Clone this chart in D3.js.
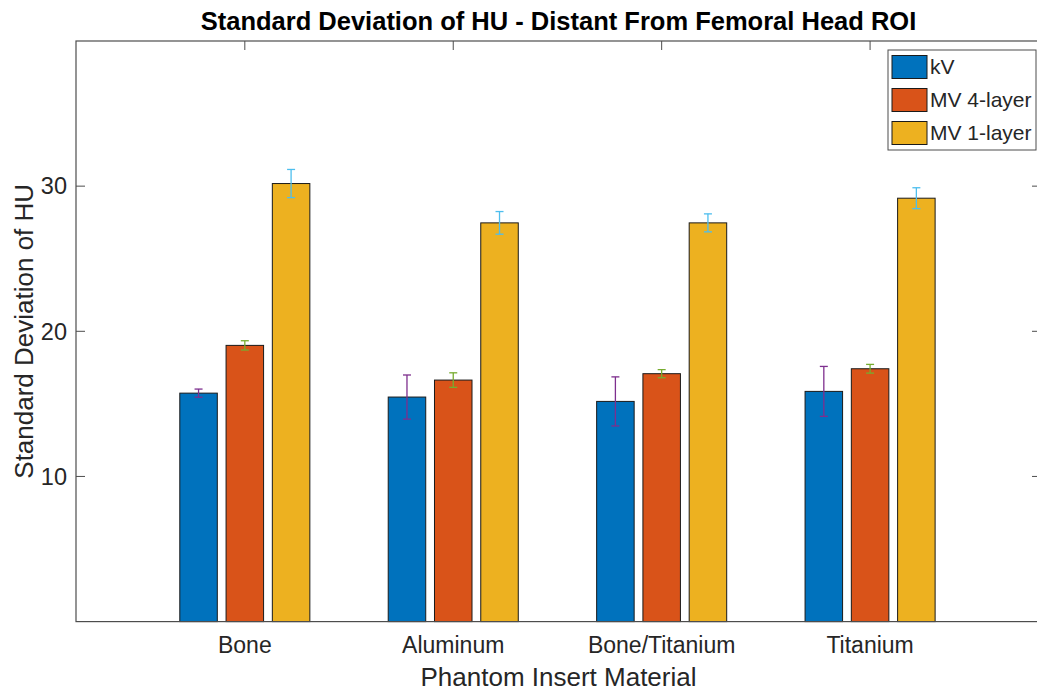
<!DOCTYPE html>
<html>
<head>
<meta charset="utf-8">
<script src="https://cdn.jsdelivr.net/npm/d3@7"></script>
<style>
  html, body { margin: 0; padding: 0; background: #fff; }
  svg { display: block; font-family: "Liberation Sans", Arial, sans-serif; }
</style>
</head>
<body>
<svg id="chart" width="1037" height="692"></svg>
<script>
// Phantom insert materials along the x axis
const categories = ["Bone", "Aluminum", "Bone/Titanium", "Titanium"];
const seriesNames = ["kV", "MV 4-layer", "MV 1-layer"];

// Mean standard deviation of HU per series
const kV        = [15.74, 15.47, 15.17, 15.86];
const mv4Layer  = [19.03, 16.64, 17.08, 17.42];
const mv1Layer  = [30.18, 27.47, 27.47, 29.17];

// Error bar half-lengths per series
const kVErr       = [0.28, 1.52, 1.69, 1.72];
const mv4LayerErr = [0.32, 0.50, 0.28, 0.30];
const mv1LayerErr = [0.97, 0.78, 0.62, 0.72];

const yTicks = [10, 20, 30];

const values = [kV, mv4Layer, mv1Layer];
const errors = [kVErr, mv4LayerErr, mv1LayerErr];
const barColors = ["#0072BD", "#D95319", "#EDB120"];
const errColors = ["#7E2F8E", "#77AC30", "#4DBEEE"];

const svg = d3.select("#chart");
const plotLeft = 76, plotRight = 1041, plotTop = 41, plotBottom = 621.6;

// Categories sit at positions 1..4 on a numeric axis
const x = d3.scaleLinear().domain([0.19, 4.82]).range([plotLeft, plotRight]);
const y = d3.scaleLinear().domain([0, 40]).range([plotBottom, plotTop]);
const groupOffset = 0.222, barWidth = 0.18;

const axisColor = "#262626";
const tickColor = "#4d4d4d";
const tickLen = 9;

// Inward tick marks (drawn under the bars)
const ticks = svg.append("g").attr("stroke", tickColor).attr("stroke-width", 1);
yTicks.forEach(t => {
  ticks.append("line").attr("x1", plotLeft).attr("x2", plotLeft + tickLen)
    .attr("y1", y(t)).attr("y2", y(t));
  ticks.append("line").attr("x1", plotRight).attr("x2", plotRight - tickLen)
    .attr("y1", y(t)).attr("y2", y(t));
});
categories.forEach((c, i) => {
  ticks.append("line").attr("x1", x(i + 1)).attr("x2", x(i + 1))
    .attr("y1", plotBottom).attr("y2", plotBottom - tickLen);
  ticks.append("line").attr("x1", x(i + 1)).attr("x2", x(i + 1))
    .attr("y1", plotTop).attr("y2", plotTop + tickLen);
});

// Bars
values.forEach((vals, s) => {
  svg.append("g").selectAll("rect").data(vals).join("rect")
    .attr("x", (d, i) => x(i + 1 + (s - 1) * groupOffset - barWidth / 2))
    .attr("width", (d, i) => x(i + 1 + barWidth / 2) - x(i + 1 - barWidth / 2))
    .attr("y", d => y(d))
    .attr("height", d => y(0) - y(d))
    .attr("fill", barColors[s])
    .attr("stroke", "#1a1a1a")
    .attr("stroke-width", 1);
});

// Error bars
const capHalf = 4;
values.forEach((vals, s) => {
  const g = svg.append("g").attr("stroke", errColors[s]).attr("stroke-width", 1.3);
  vals.forEach((v, i) => {
    const cx = x(i + 1 + (s - 1) * groupOffset);
    const e = errors[s][i];
    g.append("line").attr("x1", cx).attr("x2", cx).attr("y1", y(v + e)).attr("y2", y(v - e));
    g.append("line").attr("x1", cx - capHalf).attr("x2", cx + capHalf).attr("y1", y(v + e)).attr("y2", y(v + e));
    g.append("line").attr("x1", cx - capHalf).attr("x2", cx + capHalf).attr("y1", y(v - e)).attr("y2", y(v - e));
  });
});

// Axes box
svg.append("rect")
  .attr("x", plotLeft).attr("y", plotTop)
  .attr("width", plotRight - plotLeft).attr("height", plotBottom - plotTop)
  .attr("fill", "none").attr("stroke", tickColor).attr("stroke-width", 1.2);

// Y tick labels
svg.append("g").selectAll("text").data(yTicks).join("text")
  .attr("x", plotLeft - 9).attr("y", d => y(d))
  .attr("dy", "0.35em").attr("text-anchor", "end")
  .attr("font-size", 23.5).attr("fill", axisColor)
  .text(d => d);

// X tick labels
svg.append("g").selectAll("text").data(categories).join("text")
  .attr("x", (d, i) => x(i + 1)).attr("y", 653)
  .attr("text-anchor", "middle")
  .attr("font-size", 23).attr("fill", axisColor)
  .text(d => d);

// Axis titles
svg.append("text")
  .attr("x", (plotLeft + plotRight) / 2).attr("y", 686)
  .attr("text-anchor", "middle").attr("font-size", 26).attr("fill", axisColor)
  .text("Phantom Insert Material");

svg.append("text")
  .attr("transform", `translate(33,${(plotTop + plotBottom) / 2}) rotate(-90)`)
  .attr("text-anchor", "middle").attr("font-size", 26).attr("fill", axisColor)
  .text("Standard Deviation of HU");

// Chart title
svg.append("text")
  .attr("x", (plotLeft + plotRight) / 2).attr("y", 30)
  .attr("text-anchor", "middle").attr("font-size", 25.5).attr("font-weight", "bold")
  .attr("fill", "#000")
  .text("Standard Deviation of HU - Distant From Femoral Head ROI");

// Legend
const legend = svg.append("g");
legend.append("rect")
  .attr("x", 888).attr("y", 50).attr("width", 148).attr("height", 100)
  .attr("fill", "#fff").attr("stroke", tickColor).attr("stroke-width", 1);
seriesNames.forEach((name, s) => {
  const cy = 67 + s * 33;
  legend.append("rect")
    .attr("x", 892).attr("y", cy - 11.5).attr("width", 35).attr("height", 23)
    .attr("fill", barColors[s]).attr("stroke", "#1a1a1a").attr("stroke-width", 1);
  legend.append("text")
    .attr("x", 930).attr("y", cy).attr("dy", "0.35em")
    .attr("font-size", 21).attr("fill", axisColor)
    .text(name);
});
</script>
</body>
</html>
